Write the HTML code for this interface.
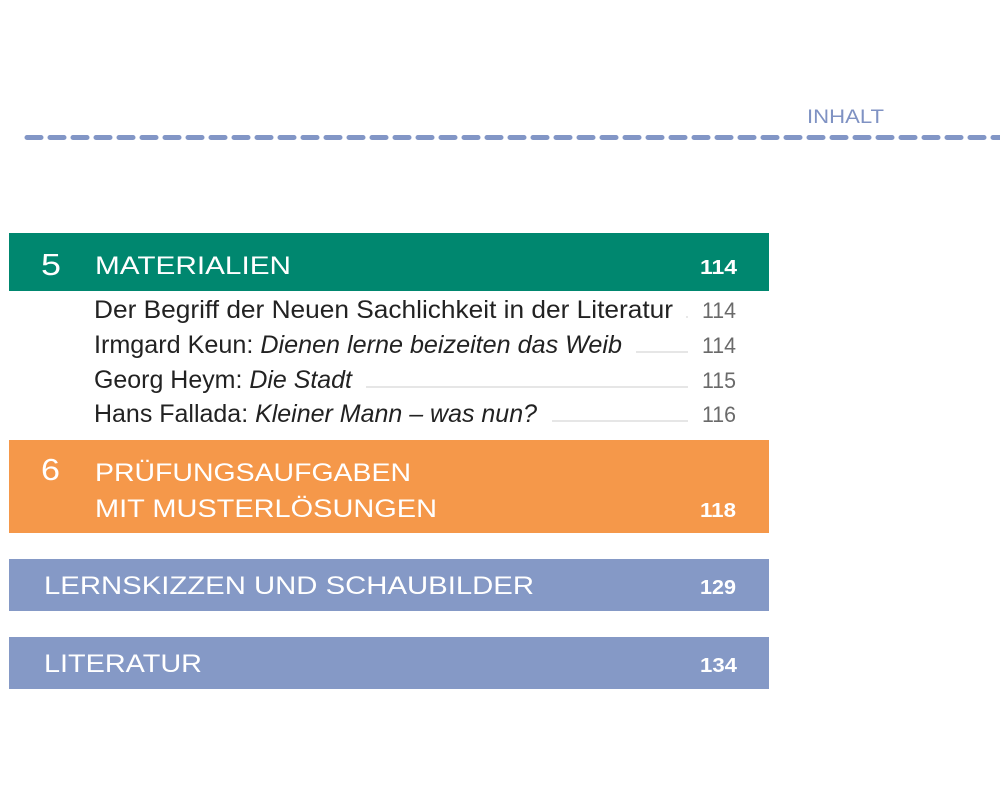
<!DOCTYPE html>
<html><head><meta charset="utf-8"><style>
html,body{margin:0;padding:0;background:#fff;}
svg{display:block;}
text{font-family:"Liberation Sans",sans-serif;}
</style></head><body>
<svg width="1000" height="800" viewBox="0 0 1000 800" xmlns="http://www.w3.org/2000/svg">
<rect width="1000" height="800" fill="#fff"/>
<text x="807" y="123" font-size="19" fill="#7f92c3" textLength="77" lengthAdjust="spacingAndGlyphs">INHALT</text>
<line x1="27" y1="137.5" x2="1000" y2="137.5" stroke="#8296c6" stroke-width="5" stroke-dasharray="14 9" stroke-linecap="round"/>

<rect x="9" y="233" width="760" height="58" fill="#00876f"/>
<text x="41" y="275" font-size="31" fill="#fff" textLength="20" lengthAdjust="spacingAndGlyphs">5</text>
<text x="95" y="274" font-size="25" fill="#fff" textLength="196" lengthAdjust="spacingAndGlyphs">MATERIALIEN</text>
<text x="700" y="274" font-size="20" font-weight="bold" fill="#fff" textLength="37" lengthAdjust="spacingAndGlyphs">114</text>

<g font-size="25" fill="#222">
<text x="94" y="318" textLength="579" lengthAdjust="spacingAndGlyphs">Der Begriff der Neuen Sachlichkeit in der Literatur</text>
<text x="94" y="353" textLength="528" lengthAdjust="spacingAndGlyphs">Irmgard Keun: <tspan font-style="italic">Dienen lerne beizeiten das Weib</tspan></text>
<text x="94" y="388" textLength="258" lengthAdjust="spacingAndGlyphs">Georg Heym: <tspan font-style="italic">Die Stadt</tspan></text>
<text x="94" y="422" textLength="443" lengthAdjust="spacingAndGlyphs">Hans Fallada: <tspan font-style="italic">Kleiner Mann – was nun?</tspan></text>
</g>
<g stroke="#d8d8d8" stroke-width="1.2">
<line x1="686" y1="317" x2="688" y2="317"/>
<line x1="636" y1="352" x2="688" y2="352"/>
<line x1="366" y1="387" x2="688" y2="387"/>
<line x1="552" y1="421" x2="688" y2="421"/>
</g>
<g font-size="22" fill="#6a6a6a">
<text x="702" y="318" textLength="34" lengthAdjust="spacingAndGlyphs">114</text>
<text x="702" y="353" textLength="34" lengthAdjust="spacingAndGlyphs">114</text>
<text x="702" y="388" textLength="34" lengthAdjust="spacingAndGlyphs">115</text>
<text x="702" y="422" textLength="34" lengthAdjust="spacingAndGlyphs">116</text>
</g>

<rect x="9" y="440" width="760" height="93" fill="#f5984a"/>
<text x="41" y="480" font-size="31" fill="#fff" textLength="19" lengthAdjust="spacingAndGlyphs">6</text>
<text x="95" y="481" font-size="25" fill="#fff" textLength="316" lengthAdjust="spacingAndGlyphs">PRÜFUNGSAUFGABEN</text>
<text x="95" y="517" font-size="25" fill="#fff" textLength="342" lengthAdjust="spacingAndGlyphs">MIT MUSTERLÖSUNGEN</text>
<text x="700" y="517" font-size="20" font-weight="bold" fill="#fff" textLength="36" lengthAdjust="spacingAndGlyphs">118</text>

<rect x="9" y="559" width="760" height="52" fill="#8599c6"/>
<text x="44" y="594" font-size="25" fill="#fff" textLength="490" lengthAdjust="spacingAndGlyphs">LERNSKIZZEN UND SCHAUBILDER</text>
<text x="700" y="594" font-size="20" font-weight="bold" fill="#fff" textLength="36" lengthAdjust="spacingAndGlyphs">129</text>

<rect x="9" y="637" width="760" height="52" fill="#8599c6"/>
<text x="44" y="672" font-size="25" fill="#fff" textLength="158" lengthAdjust="spacingAndGlyphs">LITERATUR</text>
<text x="700" y="672" font-size="20" font-weight="bold" fill="#fff" textLength="37" lengthAdjust="spacingAndGlyphs">134</text>
</svg>
</body></html>
